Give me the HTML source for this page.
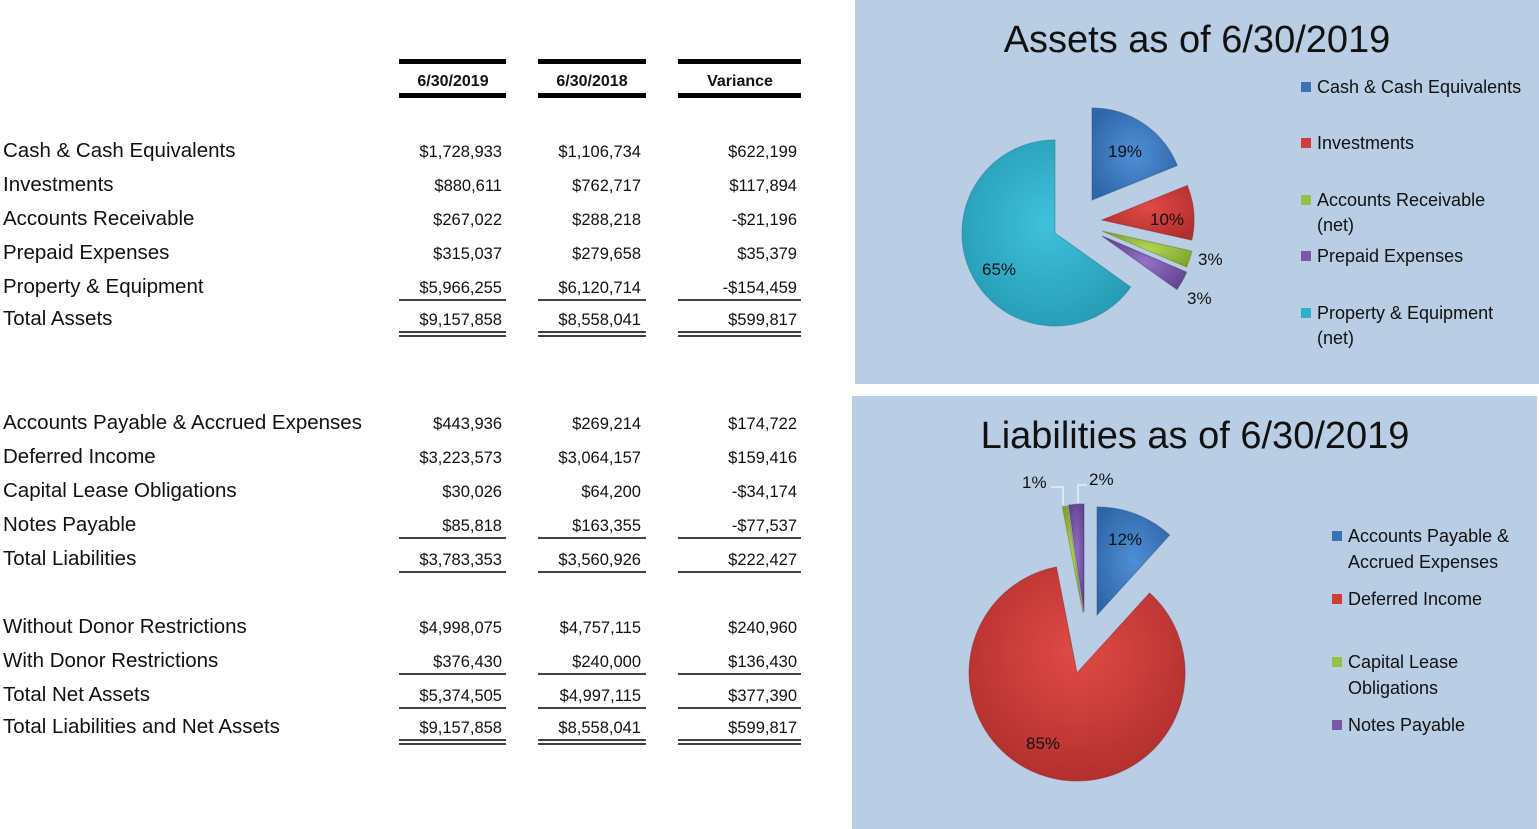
<!DOCTYPE html>
<html><head><meta charset="utf-8"><style>
body{margin:0;width:1539px;height:829px;background:#fff;overflow:hidden}
svg{display:block}
.l{font-family:"Liberation Sans",sans-serif;font-size:20.5px;fill:#111}
.n{font-family:"Liberation Sans",sans-serif;font-size:16.5px;fill:#111;text-anchor:end}
.h{font-family:"Liberation Sans",sans-serif;font-size:16px;font-weight:bold;fill:#111;text-anchor:middle}
.t{font-family:"Liberation Sans",sans-serif;font-size:38px;fill:#111;text-anchor:middle}
.g{font-family:"Liberation Sans",sans-serif;font-size:18px;fill:#111}
.p{font-family:"Liberation Sans",sans-serif;font-size:17px;fill:#111}
</style></head><body>
<svg width="1539" height="829" viewBox="0 0 1539 829">
<defs>
<radialGradient id="gb" cx="50%" cy="50%" r="60%"><stop offset="0" stop-color="#4f8fd6"/><stop offset="1" stop-color="#2f66a8"/></radialGradient>
<radialGradient id="gr" cx="50%" cy="40%" r="65%"><stop offset="0" stop-color="#e04a46"/><stop offset="1" stop-color="#b02e2c"/></radialGradient>
<radialGradient id="gg" cx="50%" cy="50%" r="60%"><stop offset="0" stop-color="#b2d657"/><stop offset="1" stop-color="#7fa22a"/></radialGradient>
<radialGradient id="gp" cx="50%" cy="50%" r="60%"><stop offset="0" stop-color="#9471c4"/><stop offset="1" stop-color="#63428f"/></radialGradient>
<radialGradient id="gc" cx="50%" cy="45%" r="65%"><stop offset="0" stop-color="#3fc1dc"/><stop offset="1" stop-color="#2498b2"/></radialGradient>
</defs>
<rect x="855" y="0" width="684" height="384" fill="#b9cde5"/>
<rect x="852" y="396" width="685" height="433" fill="#b9cde5"/>

<g fill="#000">
<rect x="399" y="59" width="107" height="5"/><rect x="538" y="59" width="108" height="5"/><rect x="678" y="59" width="123" height="5"/>
<rect x="399" y="93" width="107" height="5"/><rect x="538" y="93" width="108" height="5"/><rect x="678" y="93" width="123" height="5"/>
</g>
<text class="h" x="453" y="86">6/30/2019</text>
<text class="h" x="592" y="86">6/30/2018</text>
<text class="h" x="740" y="86">Variance</text>

<g class="l">
<text x="3" y="157">Cash &amp; Cash Equivalents</text>
<text x="3" y="191">Investments</text>
<text x="3" y="225">Accounts Receivable</text>
<text x="3" y="259">Prepaid Expenses</text>
<text x="3" y="293">Property &amp; Equipment</text>
<text x="3" y="325">Total Assets</text>
<text x="3" y="429">Accounts Payable &amp; Accrued Expenses</text>
<text x="3" y="463">Deferred Income</text>
<text x="3" y="497">Capital Lease Obligations</text>
<text x="3" y="531">Notes Payable</text>
<text x="3" y="565">Total Liabilities</text>
<text x="3" y="633">Without Donor Restrictions</text>
<text x="3" y="667">With Donor Restrictions</text>
<text x="3" y="701">Total Net Assets</text>
<text x="3" y="733">Total Liabilities and Net Assets</text>
</g>
<g class="n">
<text x="502" y="157">$1,728,933</text><text x="641" y="157">$1,106,734</text><text x="797" y="157">$622,199</text>
<text x="502" y="191">$880,611</text><text x="641" y="191">$762,717</text><text x="797" y="191">$117,894</text>
<text x="502" y="225">$267,022</text><text x="641" y="225">$288,218</text><text x="797" y="225">-$21,196</text>
<text x="502" y="259">$315,037</text><text x="641" y="259">$279,658</text><text x="797" y="259">$35,379</text>
<text x="502" y="293">$5,966,255</text><text x="641" y="293">$6,120,714</text><text x="797" y="293">-$154,459</text>
<text x="502" y="325">$9,157,858</text><text x="641" y="325">$8,558,041</text><text x="797" y="325">$599,817</text>
<text x="502" y="429">$443,936</text><text x="641" y="429">$269,214</text><text x="797" y="429">$174,722</text>
<text x="502" y="463">$3,223,573</text><text x="641" y="463">$3,064,157</text><text x="797" y="463">$159,416</text>
<text x="502" y="497">$30,026</text><text x="641" y="497">$64,200</text><text x="797" y="497">-$34,174</text>
<text x="502" y="531">$85,818</text><text x="641" y="531">$163,355</text><text x="797" y="531">-$77,537</text>
<text x="502" y="565">$3,783,353</text><text x="641" y="565">$3,560,926</text><text x="797" y="565">$222,427</text>
<text x="502" y="633">$4,998,075</text><text x="641" y="633">$4,757,115</text><text x="797" y="633">$240,960</text>
<text x="502" y="667">$376,430</text><text x="641" y="667">$240,000</text><text x="797" y="667">$136,430</text>
<text x="502" y="701">$5,374,505</text><text x="641" y="701">$4,997,115</text><text x="797" y="701">$377,390</text>
<text x="502" y="733">$9,157,858</text><text x="641" y="733">$8,558,041</text><text x="797" y="733">$599,817</text>
</g>
<g stroke="#000" stroke-width="1.5">
<path d="M399 300H506M538 300H646M678 300H801"/>
<path d="M399 332H506M538 332H646M678 332H801M399 336H506M538 336H646M678 336H801"/>
<path d="M399 538H506M538 538H646M678 538H801"/>
<path d="M399 572H506M538 572H646M678 572H801"/>
<path d="M399 674H506M538 674H646M678 674H801"/>
<path d="M399 708H506M538 708H646M678 708H801"/>
<path d="M399 740H506M538 740H646M678 740H801M399 744H506M538 744H646M678 744H801"/>
</g>

<text class="t" x="1197" y="52">Assets as of 6/30/2019</text>
<g stroke-width="1" stroke-opacity="0.5">
<path d="M1092 200L1092 108A92 92 0 0 1 1177.3 165.5Z" fill="url(#gb)" stroke="#244f82"/>
<path d="M1102 220L1187.3 185.5A92 92 0 0 1 1191.8 240.1Z" fill="url(#gr)" stroke="#8a2422"/>
<path d="M1102 231L1191.8 251.1A92 92 0 0 1 1186.6 267.1Z" fill="url(#gg)" stroke="#63801f"/>
<path d="M1102 236L1186.6 272.1A92 92 0 0 1 1176.9 289.4Z" fill="url(#gp)" stroke="#4c3270"/>
<path d="M1055 233L1130.7 287A93 93 0 1 1 1055 140Z" fill="url(#gc)" stroke="#1d7a8f"/>
</g>
<g class="p">
<text x="1108" y="157">19%</text><text x="1150" y="225">10%</text>
<text x="1198" y="265">3%</text><text x="1187" y="304">3%</text><text x="982" y="275">65%</text>
</g>
<g class="g">
<rect x="1301" y="82" width="10" height="10" fill="#3a72b8"/><text x="1317" y="93">Cash &amp; Cash Equivalents</text>
<rect x="1301" y="138" width="10" height="10" fill="#d03c39"/><text x="1317" y="149">Investments</text>
<rect x="1301" y="195" width="10" height="10" fill="#98c043"/><text x="1317" y="206">Accounts Receivable</text><text x="1317" y="231">(net)</text>
<rect x="1301" y="251" width="10" height="10" fill="#7a57a8"/><text x="1317" y="262">Prepaid Expenses</text>
<rect x="1301" y="308" width="10" height="10" fill="#30afc9"/><text x="1317" y="319">Property &amp; Equipment</text><text x="1317" y="344">(net)</text>
</g>

<text class="t" x="1195" y="448">Liabilities as of 6/30/2019</text>
<g stroke-width="1" stroke-opacity="0.5">
<path d="M1097 615L1097 507A108 108 0 0 1 1169.6 535Z" fill="url(#gb)" stroke="#244f82"/>
<path d="M1077 673L1149.6 593A108 108 0 1 1 1056.4 567Z" fill="url(#gr)" stroke="#8a2422"/>
<path d="M1083 613L1062.4 507A108 108 0 0 1 1067.6 506.1Z" fill="url(#gg)" stroke="#63801f"/>
<path d="M1084 612L1068.6 505.1A108 108 0 0 1 1084 504Z" fill="url(#gp)" stroke="#4c3270"/>
</g>
<path d="M1051 487H1063V505M1087 485H1078V503" fill="none" stroke="#fff" stroke-width="1"/>
<g class="p">
<text x="1108" y="545">12%</text><text x="1026" y="749">85%</text>
<text x="1022" y="488">1%</text><text x="1089" y="485">2%</text>
</g>
<g class="g">
<rect x="1332" y="531" width="10" height="10" fill="#3a72b8"/><text x="1348" y="542">Accounts Payable &amp;</text><text x="1348" y="568">Accrued Expenses</text>
<rect x="1332" y="594" width="10" height="10" fill="#d03c39"/><text x="1348" y="605">Deferred Income</text>
<rect x="1332" y="657" width="10" height="10" fill="#98c043"/><text x="1348" y="668">Capital Lease</text><text x="1348" y="694">Obligations</text>
<rect x="1332" y="720" width="10" height="10" fill="#7a57a8"/><text x="1348" y="731">Notes Payable</text>
</g>
</svg>
</body></html>
